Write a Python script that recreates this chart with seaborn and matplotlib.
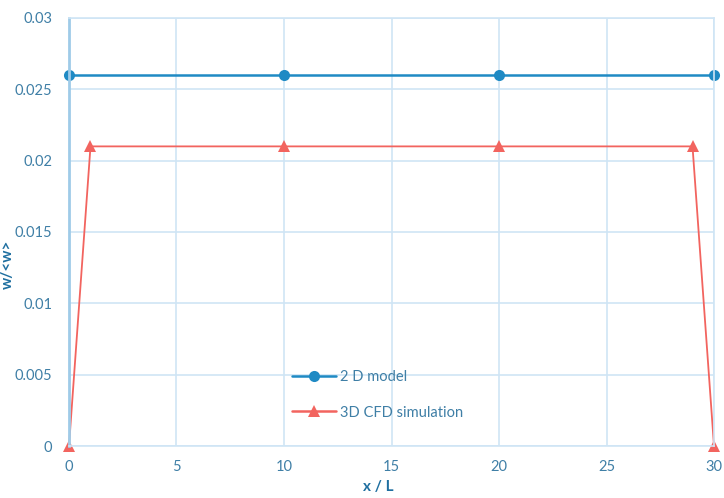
import numpy as np
import pandas as pd
import matplotlib.pyplot as plt
import seaborn as sns

sns.set_theme(style="white")
plt.rcParams['font.family'] = ['Lato', 'DejaVu Sans']

# Data
x_2d = [0, 10, 20, 30]
w_2d = [0.026, 0.026, 0.026, 0.026]
x_3d = [0, 1, 10, 20, 29, 30]
w_3d = [0.0, 0.021, 0.021, 0.021, 0.021, 0.0]
labels = ["2 D model", "3D CFD simulation"]

df = pd.concat([
    pd.DataFrame({"x": x_2d, "w": w_2d, "series": labels[0]}),
    pd.DataFrame({"x": x_3d, "w": w_3d, "series": labels[1]}),
], ignore_index=True)

blue = "#1f8ac4"
red = "#f2645f"
grid_col = "#cfe5f5"
text_col = "#3f7fa6"

fig = plt.figure(figsize=(7.24, 4.98), dpi=100)
ax = fig.add_axes([0.0953, 0.1044, 0.8909, 0.8595])

sns.lineplot(data=df, x="x", y="w", hue="series", style="series",
             markers=["o", "^"], dashes=False, palette=[blue, red],
             markersize=8, linewidth=1.8, markeredgewidth=0,
             sort=False, ax=ax)
for ln in ax.lines:
    ln.set_clip_on(False)
ax.lines[1].set_linewidth(1.3)

ax.set_xlim(0, 30)
ax.set_ylim(0, 0.03)
ax.set_xticks(np.arange(0, 31, 5))
ax.set_yticks([0, 0.005, 0.01, 0.015, 0.02, 0.025, 0.03])
ax.set_yticklabels(["0", "0.005", "0.01", "0.015", "0.02", "0.025", "0.03"])
ax.grid(True, color=grid_col, linewidth=1.2)
ax.set_axisbelow(True)
for side, sp in ax.spines.items():
    sp.set_color(grid_col)
    sp.set_linewidth(1.2)
ax.spines["left"].set_color("#9fcbe8")
ax.spines["left"].set_linewidth(2)
ax.tick_params(axis="both", colors=text_col, labelsize=10.5, length=0)
ax.tick_params(axis="y", pad=12)
ax.tick_params(axis="x", pad=10)
ax.set_xlabel("")
ax.set_ylabel("")

leg = ax.legend(loc="center left", bbox_to_anchor=(0.325, 0.12), frameon=False,
                labelspacing=1.5, handlelength=3.0, handletextpad=0.3,
                fontsize=10.5)
for t in leg.get_texts():
    t.set_color(text_col)

fig.text(0.011, 0.47, "w/<w>", rotation=90, ha="center", va="center",
         color="#1f6fa0", fontsize=11, fontweight="bold")
fig.text(0.522, 0.022, "x / L", ha="center", va="center",
         color="#1f6fa0", fontsize=11, fontweight="bold")

fig.savefig("out.png", dpi=100)
